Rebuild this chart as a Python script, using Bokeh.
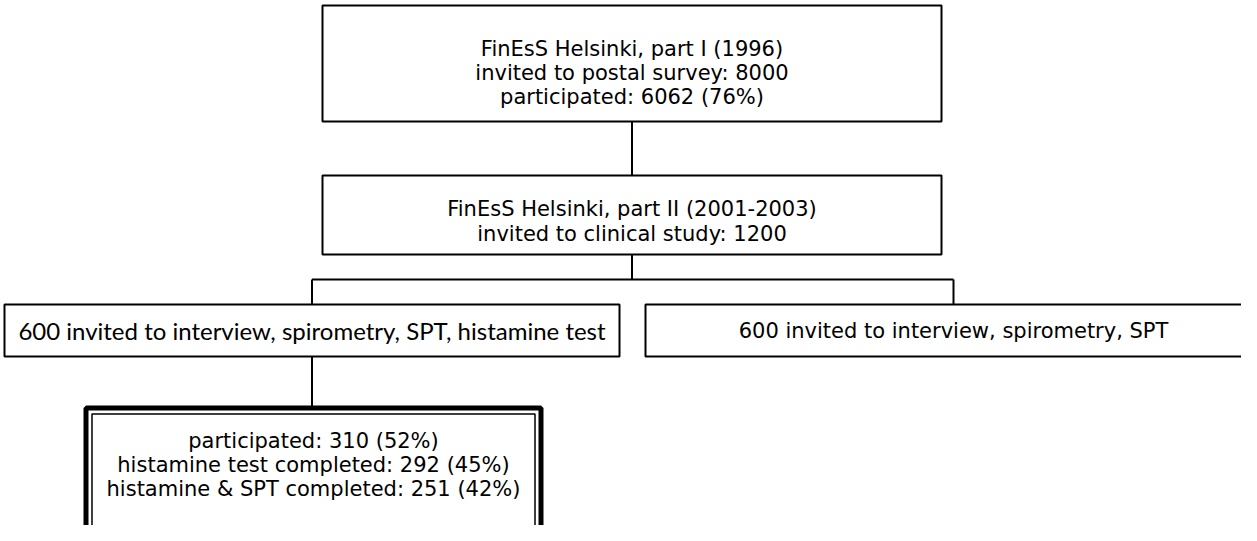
from bokeh.plotting import figure
from bokeh.models import Range1d, ColumnDataSource
from bokeh.embed import file_html
from bokeh.resources import INLINE
from bokeh.core.properties import value

# ---- data: the text of each flowchart step ----
step1_lines = ["FinEsS Helsinki, part I (1996)",
               "invited to postal survey: 8000",
               "participated: 6062 (76%)"]
step2_lines = ["FinEsS Helsinki, part II (2001-2003)",
               "invited to clinical study: 1200"]
armA_lines = ["600 invited to interview, spirometry, SPT, histamine test"]
armB_lines = ["600 invited to interview, spirometry, SPT"]
result_lines = ["participated: 310 (52%)",
                "histamine test completed: 292 (45%)",
                "histamine & SPT completed: 251 (42%)"]

# ---- layout (page pixel coordinates; the page has an 8px margin) ----
W, H = 1241, 525
OFF = 8
FONT = "DejaVu Sans"
FONT_A = "Lato"

# boxes: (left, right, top, bottom) in page px
box1 = (330, 949, 13, 129)
box2 = (330, 949, 183, 262)
boxA = (12, 627, 312, 364)
boxB = (653, 1269, 312, 364)
boxR = (93.5, 548.5, 415.5, 539.5)

p = figure(width=W, height=H, output_backend="svg", toolbar_location=None,
           x_axis_type=None, y_axis_type=None, min_border=0,
           x_range=Range1d(0, W), y_range=Range1d(H, 0))
p.outline_line_color = None
p.background_fill_color = "white"
p.border_fill_color = "white"


def fx(v):
    return v - OFF


def draw_box(b, lw=2):
    l, r, t, bt = b
    p.quad(left=[fx(l)], right=[fx(r)], top=[fx(t)], bottom=[fx(bt)],
           fill_color="white", line_color="black", line_width=lw)


def draw_text(b, lines, ys, fs="21px", font=FONT):
    l, r, t, bt = b
    cx = (l + r) / 2
    n = len(lines)
    src = ColumnDataSource(dict(x=[fx(cx)] * n, y=[fx(y) for y in ys], t=lines))
    p.text(x="x", y="y", text="t", source=src, text_align="center",
           text_baseline="middle", text_font=value(font),
           text_font_size=fs, text_color="black")


def cx(b):
    return (b[0] + b[1]) / 2


# connectors
branch_y = 287
segs_x = [
    [fx(cx(box1)), fx(cx(box1))],
    [fx(cx(box2)), fx(cx(box2))],
    [fx(cx(boxA)), fx(cx(boxB))],
    [fx(cx(boxA)), fx(cx(boxA))],
    [fx(cx(boxB)), fx(cx(boxB))],
    [fx(cx(boxA)), fx(cx(boxA))],
]
segs_y = [
    [fx(box1[3]), fx(box2[2])],
    [fx(box2[3]), fx(branch_y)],
    [fx(branch_y), fx(branch_y)],
    [fx(branch_y), fx(boxA[2])],
    [fx(branch_y), fx(boxB[2])],
    [fx(boxA[3]), fx(boxR[2])],
]
p.multi_line(xs=segs_x, ys=segs_y, line_color="black", line_width=2)

draw_box(box1)
draw_box(box2)
draw_box(boxA)
draw_box(boxB)
# double border result box
draw_box(boxR, lw=5)
inner = (boxR[0] + 6, boxR[1] - 6, boxR[2] + 6, boxR[3] - 6)
draw_box(inner, lw=1.5)

draw_text(box1, step1_lines, [56, 80, 104])
draw_text(box2, step2_lines, [216, 241])
draw_text(boxA, armA_lines, [338], fs="24px", font=FONT_A)
draw_text(boxB, armB_lines, [338])
draw_text(boxR, result_lines, [448, 472, 496])

open("out.html", "w").write(file_html(p, INLINE))
